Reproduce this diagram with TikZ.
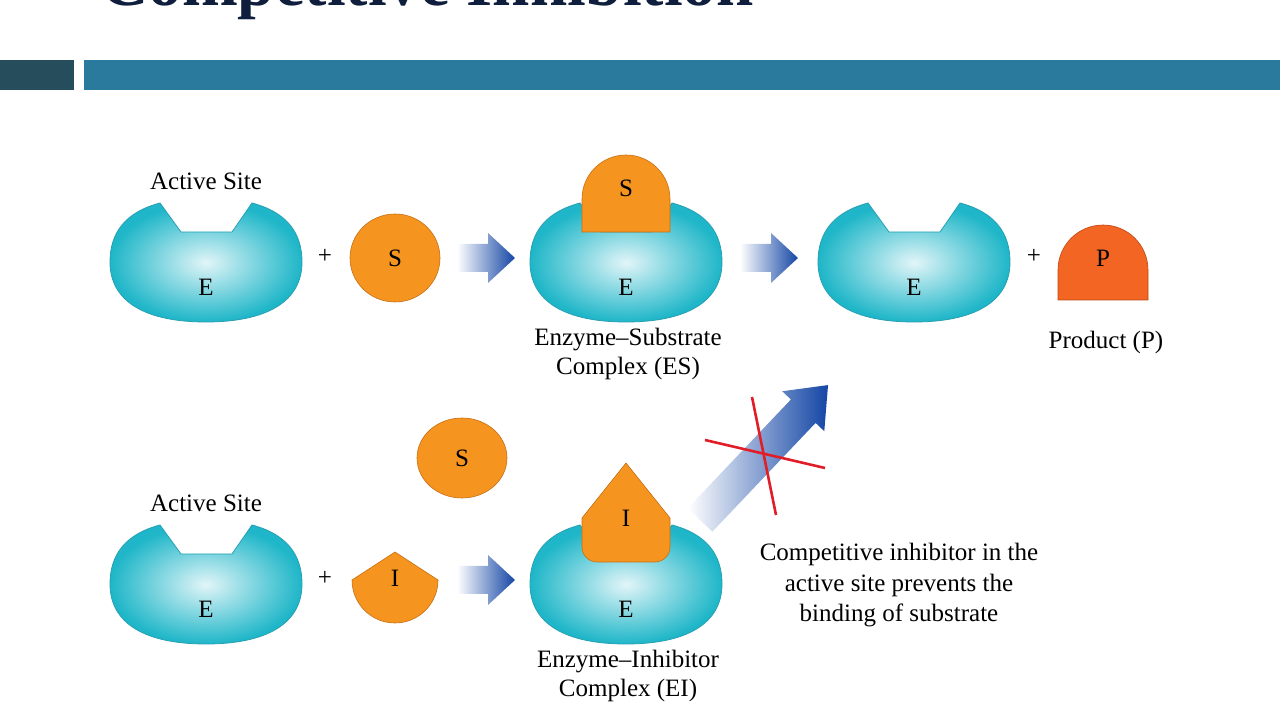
\documentclass[tikz,border=0pt]{standalone}
\usepackage{fontspec}
\setmainfont{Liberation Serif}
\definecolor{enzd}{RGB}{40,160,180}
\definecolor{enzi}{RGB}{225,245,248}
\definecolor{enzo}{RGB}{30,182,200}
\definecolor{orf}{RGB}{245,148,30}
\definecolor{ord}{RGB}{200,110,20}
\definecolor{prf}{RGB}{242,101,34}
\definecolor{prd}{RGB}{190,70,20}
\definecolor{arb}{RGB}{20,70,165}
\definecolor{redc}{RGB}{225,30,40}
\definecolor{titc}{RGB}{15,30,60}
\definecolor{bar1}{RGB}{38,77,92}
\definecolor{bar2}{RGB}{42,122,158}
\begin{document}
\begin{tikzpicture}[x=1pt,y=1pt,
  enz/.style={draw=enzd,line width=0.8pt,inner color=enzi,outer color=enzo},
  orng/.style={fill=orf,draw=ord,line width=0.6pt},
  lbl/.style={font=\fontsize{25}{29}\selectfont,inner sep=0pt},
  barrow/.style={shading=axis,top color=white,bottom color=arb},
  redx/.style={draw=redc,line width=2.6pt}]
\useasboundingbox (0,0) rectangle (1280,720);
\begin{scope}
\clip (0,0) rectangle (1280,720);
\node[anchor=base west,inner sep=0pt,font=\fontsize{67}{72}\selectfont\bfseries,text=titc] (title) at (100,714) {Competitive Inhibition};
\end{scope}
\fill[bar1] (0,630) rectangle (74,660);
\fill[bar2] (84,630) rectangle (1280,660);
% enzymes
\foreach \cx/\cy/\nm in {206/458/e1,626/458/e2,914/458/e3,206/136/e4,626/136/e5}{
  \path[enz,shift={(\cx,\cy)}] (-46,59) -- (-25,30) -- (26,30) -- (46,59) .. controls (80,50) and (96,30) .. (96,0) .. controls (96,-40) and (60,-60) .. (0,-60) .. controls (-60,-60) and (-96,-40) .. (-96,0) .. controls (-96,30) and (-80,50) .. (-46,59) -- cycle;
  \node[lbl] (\nm) at (\cx,\cy-25) {E};
}
% substrates
\path[orng] (395,462) ellipse [x radius=45,y radius=44];
\node[lbl] (s1) at (395,462) {S};
\path[orng] (582,488) -- (582,521) arc (180:0:44) -- (670,488) -- cycle;
\node[lbl] (s2) at (626,532) {S};
\path[fill=prf,draw=prd,line width=0.6pt] (1058,420) -- (1058,450) arc (180:0:45) -- (1148,420) -- cycle;
\node[lbl] (p) at (1103,462) {P};
\path[orng] (462,262) ellipse [x radius=45,y radius=40];
\node[lbl] (s3) at (462,262) {S};
% inhibitors
\path[orng] (395,168) -- (352,140) arc (180:360:43) -- cycle;
\node[lbl] (i1) at (395,142) {I};
\path[orng] (626,257) -- (582,202) -- (582,173) arc (180:270:15) -- (655,158) arc (270:360:15) -- (670,202) -- cycle;
\node[lbl] (i2) at (626,202) {I};
% plus
\node[lbl] (pl1) at (325,464) {+};
\node[lbl] (pl2) at (1034,464) {+};
\node[lbl] (pl3) at (325,142) {+};
% arrows
\foreach \x/\y in {457/462,740/462,457/140}{
  \path[barrow,shading angle=90] (\x,\y-14) -- (\x+31,\y-14) -- (\x+31,\y-25) -- (\x+58,\y) -- (\x+31,\y+25) -- (\x+31,\y+14) -- (\x,\y+14) -- cycle;
}
\begin{scope}[shift={(700,200)},rotate=46.5]
\path[barrow,shading angle=90] (0,-17) -- (150,-17) -- (150,-29) -- (186,0) -- (150,29) -- (150,17) -- (0,17) -- cycle;
\end{scope}
\coordinate (x1a) at (705,280); \coordinate (x1b) at (825,252);
\coordinate (x2a) at (752,323); \coordinate (x2b) at (776,205);
\draw[redx] (x1a) -- (x1b);
\draw[redx] (x2a) -- (x2b);
% labels
\node[lbl,anchor=base] (as1) at (206,530) {Active Site};
\node[lbl,anchor=base] (as2) at (206,208) {Active Site};
\node[lbl,anchor=north,align=center] (es) at (628,392) {Enzyme–Substrate\\Complex (ES)};
\node[lbl,anchor=base] (prod) at (1106,371) {Product (P)};
\node[lbl,anchor=north,align=center] (ei) at (628,70) {Enzyme–Inhibitor\\Complex (EI)};
\node[lbl,anchor=north,align=center,font=\fontsize{25}{30.5}\selectfont] (cap) at (899,177) {Competitive inhibitor in the\\active site prevents the\\binding of substrate};
\end{tikzpicture}
\end{document}
